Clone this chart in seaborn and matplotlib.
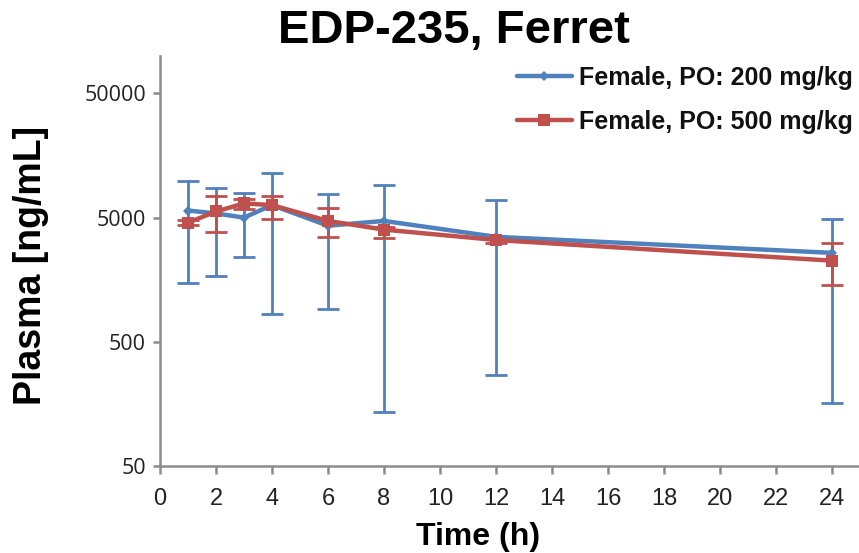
import matplotlib
matplotlib.use("Agg")
import matplotlib.pyplot as plt
from matplotlib.lines import Line2D
import numpy as np
import pandas as pd
import seaborn as sns

# ---- data ----
times = [1, 2, 3, 4, 6, 8, 12, 24]
f200_mean = [5700, 5400, 5000, 6300, 4300, 4700, 3500, 2600]
f200_upper = [9900, 8700, 7900, 11500, 7700, 9200, 6900, 4900]
f200_lower = [1500, 1700, 2400, 840, 910, 136, 270, 161]
f500_mean = [4550, 5600, 6500, 6300, 4700, 4000, 3300, 2250]
f500_upper = [4750, 7400, 7100, 7500, 5950, 4200, 3450, 3100]
f500_lower = [4350, 3800, 5900, 4850, 3500, 3400, 3150, 1430]
series_names = ["Female, PO: 200 mg/kg", "Female, PO: 500 mg/kg"]
x_ticks = list(range(0, 25, 2))
y_ticks = [50, 500, 5000, 50000]

BLUE = "#4F81BD"
RED = "#C0504D"
GREY = "#8C8C8C"

sns.set_style("white")
plt.rcParams["font.family"] = ["Liberation Sans", "DejaVu Sans"]
plt.rcParams["text.color"] = "black"

df = pd.DataFrame({
    "Time": times * 2,
    "Plasma": f200_mean + f500_mean,
    "Series": [series_names[0]] * len(times) + [series_names[1]] * len(times),
})

fig = plt.figure(figsize=(8.59, 5.53), dpi=100)
ax = fig.add_axes([160 / 859, 87 / 553, 700 / 859, 410 / 553])

# error bars
for mean, lo, hi, col in [(f200_mean, f200_lower, f200_upper, BLUE),
                          (f500_mean, f500_lower, f500_upper, RED)]:
    m = np.array(mean, float)
    yerr = np.vstack([m - np.array(lo, float), np.array(hi, float) - m])
    ax.errorbar(times, m, yerr=yerr, fmt="none", ecolor=col, elinewidth=2.0,
                capsize=8, capthick=2.0, zorder=2)

sns.lineplot(data=df, x="Time", y="Plasma", hue="Series", style="Series",
             palette=[BLUE, RED], markers=["D", "s"], dashes=False,
             linewidth=3.2, markersize=7, markeredgewidth=0, ax=ax,
             legend=False, zorder=3)
lines = ax.get_lines()
lines[-2].set_markersize(5.5)
lines[-1].set_markersize(8.5)

ax.set_yscale("log")
ax.set_ylim(50, 100000)
ax.set_xlim(0, 25)
ax.set_yticks(y_ticks)
ax.set_yticklabels([str(v) for v in y_ticks])
ax.yaxis.set_minor_locator(matplotlib.ticker.NullLocator())
ax.set_xticks(x_ticks)
ax.set_xticklabels([str(v) for v in x_ticks])

for s in ["top", "right"]:
    ax.spines[s].set_visible(False)
for s in ["left", "bottom"]:
    ax.spines[s].set_color(GREY)
    ax.spines[s].set_linewidth(1.8)

ax.tick_params(axis="y", which="major", direction="out", length=5, width=1.8,
               color=GREY, pad=5, labelsize=15.5, labelcolor="#222222",
               left=True)
ax.tick_params(axis="x", which="major", direction="out", length=6, width=1.8,
               color=GREY, pad=10, labelsize=17, labelcolor="#222222",
               bottom=True)
for lab in ax.get_yticklabels():
    lab.set_family(["Open Sans", "DejaVu Sans"])

ax.set_xlabel("")
ax.set_ylabel("")
fig.text(478 / 859, 1 - 545 / 553, "Time (h)", ha="center", va="baseline",
         fontsize=23, fontweight="bold", color="black")
fig.text(31 / 859, 1 - 265 / 553, "Plasma [ng/mL]", ha="center", va="center",
         rotation=90, fontsize=27, fontweight="bold", color="black")

fig.text(454 / 859, 1 - 31 / 553, "EDP-235, Ferret", ha="center", va="center",
         fontsize=34, fontweight="bold", color="black")

handles = [
    Line2D([0], [0], color=BLUE, lw=3.2, marker="D", markersize=5.5,
           markeredgewidth=0),
    Line2D([0], [0], color=RED, lw=3.2, marker="s", markersize=8.5,
           markeredgewidth=0),
]
leg = ax.legend(handles, series_names, loc="upper right",
                bbox_to_anchor=(853 / 859, 1 - 66 / 553),
                bbox_transform=fig.transFigure, frameon=False,
                prop={"family": ["Liberation Sans", "DejaVu Sans"],
                      "size": 18, "weight": "bold"},
                handlelength=2.2, handletextpad=0.3, labelspacing=0.8,
                borderpad=0, borderaxespad=0)
for t in leg.get_texts():
    t.set_color("#111111")

fig.savefig("out.png", dpi=100)
